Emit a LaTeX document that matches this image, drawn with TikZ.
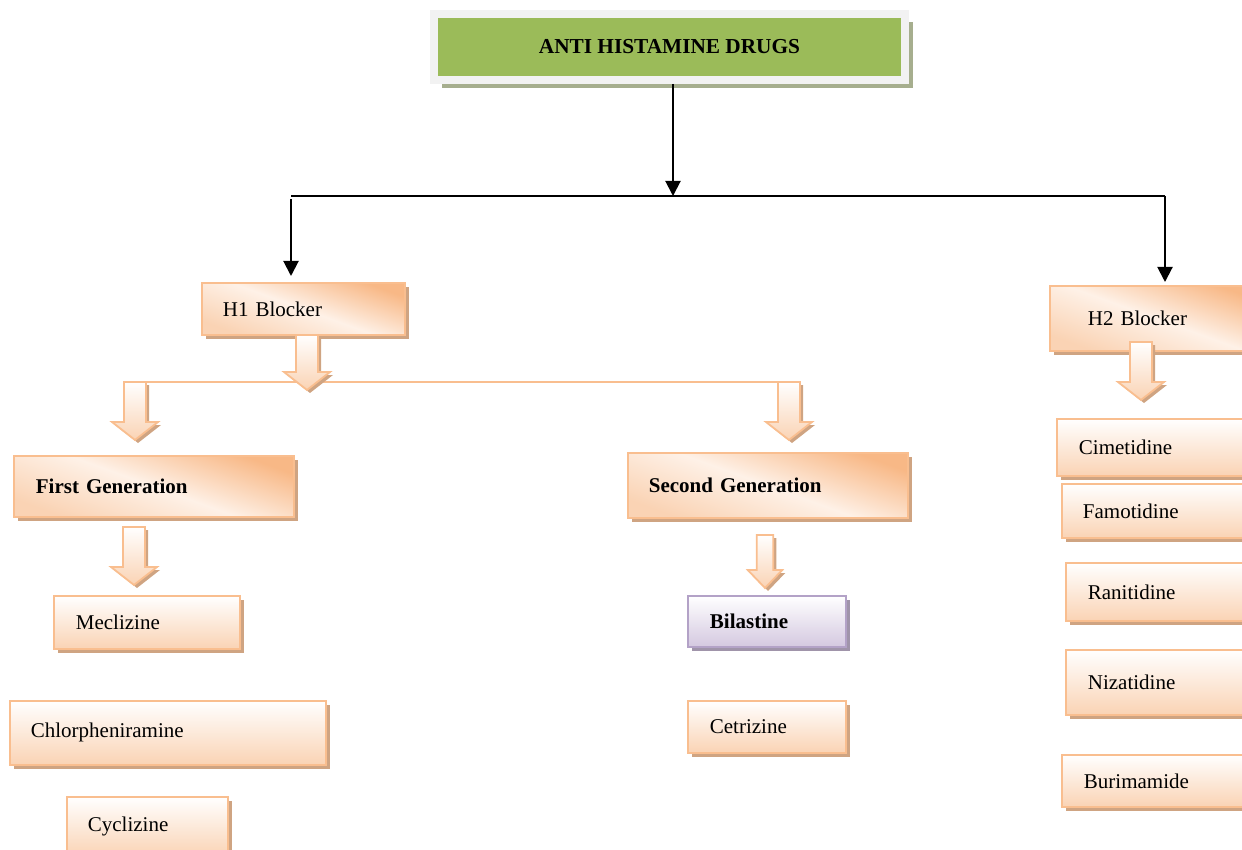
\documentclass[tikz,border=0pt]{standalone}
\usepackage{fontspec}
\setmainfont{Liberation Serif}
\usepackage{tikz}
\usetikzlibrary{arrows.meta,shapes,shadows}
\definecolor{boxline}{HTML}{F9BE8F}
\definecolor{peach}{HTML}{FAD3B4}
\definecolor{peachlight}{HTML}{FEF1E7}
\definecolor{orng}{HTML}{F8B886}
\definecolor{boxshadow}{HTML}{CFA482}
\definecolor{titlegreen}{HTML}{9BBB59}
\definecolor{framegray}{HTML}{F2F2F2}
\definecolor{titleshadow}{HTML}{A6AE8E}
\definecolor{purpleline}{HTML}{B3A2C7}
\definecolor{purplelow}{HTML}{D4C8E0}
\definecolor{purpleshadow}{HTML}{A094AA}
\tikzset{
  txt/.style={font=\fontsize{21}{25}\selectfont},
  txtbf/.style={font=\fontsize{21}{25}\selectfont\bfseries},
  drugbox/.style={txt, draw=boxline, line width=1.8pt, anchor=north west, align=left,
    inner xsep=21pt, top color=white, bottom color=peach,
    drop shadow={shadow xshift=4pt, shadow yshift=-4pt, fill=boxshadow, opacity=1}},
  headbox/.style={drugbox, top color=orng, bottom color=peach, middle color=peachlight, shading angle=-20},
  purplebox/.style={drugbox, draw=purpleline, top color=white, bottom color=purplelow,
    drop shadow={shadow xshift=4pt, shadow yshift=-4pt, fill=purpleshadow, opacity=1}},
  blockfill/.style={draw=boxline, line width=1.8pt, line join=miter, top color=white, bottom color=peach,
    drop shadow={shadow xshift=3pt, shadow yshift=-3pt, fill=boxshadow, opacity=1}},
  pics/downarrow/.style={code={
    \path[blockfill] (-11,0) -- (11,0) -- (11,{#1-18}) -- (23,{#1-18}) -- (0,#1)
      -- (-23,{#1-18}) -- (-11,{#1-18}) -- cycle;
  }},
  blackarrow/.style={-{Triangle[width=15pt,length=15pt]}, line width=2pt},
}
\begin{document}
\begin{tikzpicture}[x=1pt,y=-1pt]
\useasboundingbox (0,0) rectangle (1242,850);
\node[font=\fontsize{21.3}{25}\selectfont\bfseries, fill=titlegreen, draw=framegray, line width=8pt,
  minimum width=471pt, minimum height=66pt,
  drop shadow={shadow xshift=8pt, shadow yshift=-8pt, fill=titleshadow, opacity=1}]
  (title) at (669.5,47) {ANTI HISTAMINE DRUGS};

\node[headbox, minimum width=203pt, minimum height=52pt, text width=161pt] (h1) at (201,282) {H1 Blocker};
\node[headbox, minimum width=213pt, minimum height=65pt, inner xsep=38pt, text width=137pt] (h2) at (1049,285) {H2 Blocker};
\node[headbox, txtbf, minimum width=280pt, minimum height=61pt, inner xsep=22pt, text width=236pt] (first) at (13,455) {First Generation};
\node[headbox, txtbf, minimum width=280pt, minimum height=65pt, text width=238pt] (second) at (627,452) {Second Generation};

\node[drugbox, minimum width=186pt, minimum height=53pt, inner xsep=22pt, text width=142pt] (mecl) at (53,595) {Meclizine};
\node[drugbox, minimum width=316pt, minimum height=64pt, text width=274pt] (chlor) at (9,700) {Chlorpheniramine};
\node[drugbox, minimum width=161pt, minimum height=60pt, text width=119pt] (cycl) at (66,796) {Cyclizine};
\node[purplebox, txtbf, minimum width=158pt, minimum height=51pt, inner xsep=22pt, text width=114pt] (bila) at (687,595) {Bilastine};
\node[drugbox, minimum width=158pt, minimum height=52pt, inner xsep=22pt, text width=114pt] (cetr) at (687,700) {Cetrizine};

\node[drugbox, minimum width=200pt, minimum height=57pt, inner xsep=22pt, text width=156pt] (cime) at (1056,418) {Cimetidine};
\node[drugbox, minimum width=200pt, minimum height=54pt, text width=158pt] (famo) at (1061,483) {Famotidine};
\node[drugbox, minimum width=200pt, minimum height=58pt, inner xsep=22pt, text width=156pt] (rani) at (1065,562) {Ranitidine};
\node[drugbox, minimum width=200pt, minimum height=65pt, inner xsep=22pt, text width=156pt] (niza) at (1065,649) {Nizatidine};
\node[drugbox, minimum width=200pt, minimum height=52pt, inner xsep=22pt, text width=156pt] (buri) at (1061,754) {Burimamide};

\coordinate (hl) at (291,196);
\coordinate (hr) at (1165,196);
\draw[blackarrow] ([xshift=3.5pt]title.south) -- ([xshift=3.5pt]title.south |- hl);
\draw[line width=1.5pt] (hl) -- (hr);
\draw[blackarrow, shorten >=6pt] ([yshift=-3pt]hl) -- (hl |- h1.north);
\draw[blackarrow, shorten >=3pt] (hr) -- (hr |- h2.north);

\coordinate (gl) at (123,382);
\coordinate (gr) at (800,382);
\draw[boxline, line width=2.5pt] (gl) -- (gr);
\pic at (307,335) {downarrow=55};
\pic at ([xshift=12pt]gl) {downarrow=58};
\pic at ([xshift=-11pt]gr) {downarrow=58};
\pic at (134,527) {downarrow=58};
\pic[xscale=0.75] at (765,535) {downarrow=53};
\pic at (1141,342) {downarrow=58};
\end{tikzpicture}
\end{document}
